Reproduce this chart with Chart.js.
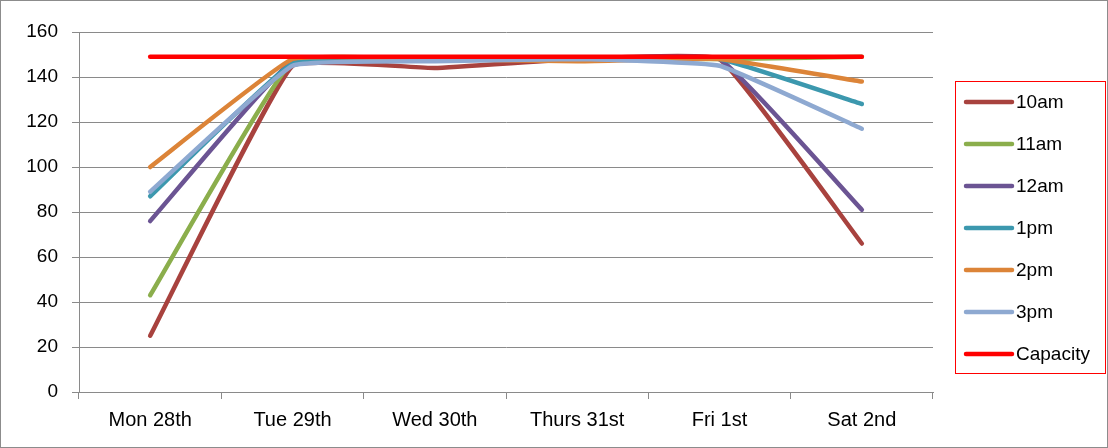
<!DOCTYPE html>
<html>
<head>
<meta charset="utf-8">
<script src="https://cdn.jsdelivr.net/npm/chart.js@4"></script>
<style>
  html, body { margin: 0; padding: 0; background: #fff; }
  #wrap { position: relative; width: 1108px; height: 448px; box-sizing: border-box; border: 1px solid #8c8c8c; }
  canvas { display: block; }
  #legendFrame { position: absolute; left: 954px; top: 80px; width: 151px; height: 293px; box-sizing: border-box; border: 1px solid #ff0000; pointer-events: none; }
</style>
</head>
<body>
<div id="wrap"><canvas id="chart" width="1106" height="446"></canvas><div id="legendFrame"></div></div>
<script>
const days = ['Mon 28th', 'Tue 29th', 'Wed 30th', 'Thurs 31st', 'Fri 1st', 'Sat 2nd'];
const yTicks = [0, 20, 40, 60, 80, 100, 120, 140, 160];

const am10 = [25, 145, 144, 148, 148, 66];
const am11 = [43, 147, 148, 148, 148, 149];
const am12 = [76, 147, 148, 148, 148, 81];
const pm1 = [87, 146, 148, 148, 148, 128];
const pm2 = [100, 148, 148, 147, 148, 138];
const pm3 = [89, 145, 147, 148, 145, 117];
const capacity = [149, 149, 149, 149, 149, 149];

const seriesNames = ['10am', '11am', '12am', '1pm', '2pm', '3pm', 'Capacity'];
const seriesData = [am10, am11, am12, pm1, pm2, pm3, capacity];
const seriesColors = ['#a8423e', '#8bae4c', '#6b5493', '#3c98ae', '#dc8438', '#8ea9d1', '#ff0000'];

const FONT = "'Liberation Sans', Arial, sans-serif";
const gridColor = '#8a8a8a';

// legend entries inside the red frame on the right
const legendBox = {
  id: 'legendBox',
  afterDraw(chart) {
    const ctx = chart.ctx;
    ctx.save();
    ctx.font = '19px ' + FONT;
    ctx.textBaseline = 'middle';
    ctx.fillStyle = '#000';
    ctx.lineCap = 'round';
    seriesNames.forEach((name, i) => {
      const y = 101 + i * 42;
      ctx.strokeStyle = seriesColors[i];
      ctx.lineWidth = 4.5;
      ctx.beginPath();
      ctx.moveTo(965, y);
      ctx.lineTo(1011, y);
      ctx.stroke();
      ctx.fillText(name, 1015, y + 1);
    });
    ctx.restore();
  }
};

new Chart(document.getElementById('chart'), {
  type: 'line',
  data: {
    labels: days,
    datasets: seriesNames.map((name, i) => ({
      label: name,
      data: seriesData[i],
      borderColor: seriesColors[i],
      backgroundColor: seriesColors[i],
      borderWidth: 4.5,
      borderCapStyle: 'round',
      borderJoinStyle: 'round',
      pointRadius: 0,
      tension: 0.1,
      order: seriesNames.length - 1 - i
    }))
  },
  options: {
    responsive: false,
    animation: false,
    events: [],
    layout: { padding: { left: 0, top: 31, right: 174, bottom: 0 } },
    plugins: {
      legend: { display: false },
      tooltip: { enabled: false }
    },
    scales: {
      x: {
        offset: true,
        grid: { drawOnChartArea: false, offset: true, tickLength: 7, color: gridColor },
        border: { color: gridColor, width: 1 },
        ticks: { color: '#000', font: { family: FONT, size: 20 }, padding: 9 },
        afterFit: s => { s.height = 55; }
      },
      y: {
        min: 0,
        max: 160,
        afterBuildTicks: s => { s.ticks = yTicks.map(v => ({ value: v })); },
        grid: { color: gridColor, tickLength: 7 },
        border: { color: gridColor, width: 1 },
        ticks: { color: '#000', font: { family: FONT, size: 19 }, padding: 14 },
        afterFit: s => { s.width = 78; }
      }
    }
  },
  plugins: [legendBox]
});
</script>
</body>
</html>
